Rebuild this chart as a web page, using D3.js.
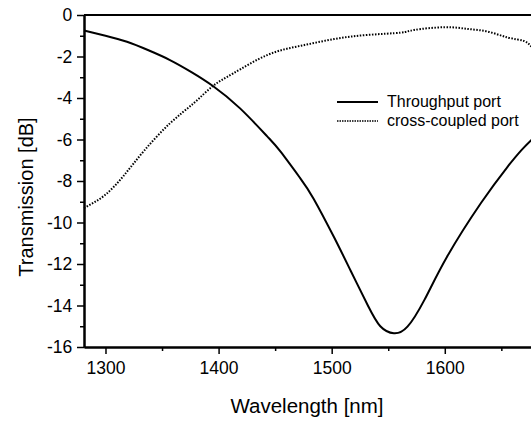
<!DOCTYPE html>
<html>
<head>
<meta charset="utf-8">
<script src="https://cdn.jsdelivr.net/npm/d3@7"></script>
<style>
  body { margin: 0; background: #fff; }
  text { font-family: "Liberation Sans", Arial, sans-serif; fill: #000; }
</style>
</head>
<body>
<div id="chart"></div>
<script>
// data
var throughputWl = [1281, 1300, 1319, 1338, 1357, 1376, 1395, 1419, 1443, 1455, 1472, 1484, 1502, 1517, 1532, 1543, 1555, 1567, 1582, 1602, 1632, 1655, 1668, 1677];
var throughputDb = [-0.75, -1.0, -1.29, -1.7, -2.17, -2.75, -3.42, -4.5, -5.85, -6.6, -7.85, -8.85, -10.7, -12.35, -14.0, -15.0, -15.34, -15.02, -13.73, -11.65, -9.06, -7.35, -6.5, -6.0];

var crossWl = [1281, 1299, 1316, 1334, 1357, 1378, 1395, 1413, 1443, 1472, 1502, 1532, 1561, 1573, 1600, 1620, 1638, 1656, 1670, 1677];
var crossDb = [-9.3, -8.7, -7.75, -6.55, -5.22, -4.25, -3.42, -2.81, -1.93, -1.49, -1.16, -0.96, -0.85, -0.72, -0.59, -0.67, -0.8, -1.09, -1.25, -1.55];

var xTicks = [1300, 1400, 1500, 1600];
var xMinor = [1350, 1450, 1550, 1650];
var yTicks = [0, -2, -4, -6, -8, -10, -12, -14, -16];
var yMinor = [-1, -3, -5, -7, -9, -11, -13, -15];
var legendLabels = ["Throughput port", "cross-coupled port"];

var margin = {top: 15, right: 0, bottom: 75, left: 84},
    width = 533 - margin.left,
    height = 347 - margin.top;

var svg = d3.select("#chart")
  .append("svg")
    .attr("width", 531)
    .attr("height", 422)
  .append("g")
    .attr("transform", "translate(" + margin.left + "," + margin.top + ")");

var x = d3.scaleLinear().domain([1281, 1678]).range([0, width]);
var y = d3.scaleLinear().domain([-16, 0]).range([height, 0]);

// x axis
var xAxis = svg.append("g")
  .attr("transform", "translate(0," + height + ")")
  .call(d3.axisBottom(x).tickValues(xTicks).tickSize(7).tickSizeOuter(0).tickFormat(d3.format("d")));
svg.append("g")
  .attr("transform", "translate(0," + height + ")")
  .call(d3.axisBottom(x).tickValues(xMinor).tickSize(4).tickSizeOuter(0).tickFormat(""));

// y axis
var yAxis = svg.append("g")
  .call(d3.axisLeft(y).tickValues(yTicks).tickSize(7).tickSizeOuter(0).tickFormat(function(d) { return d < 0 ? "-" + Math.abs(d) : d; }));
svg.append("g")
  .call(d3.axisLeft(y).tickValues(yMinor).tickSize(4).tickSizeOuter(0).tickFormat(""));

// top frame line
svg.append("line")
  .attr("x1", 0).attr("x2", width)
  .attr("y1", 0).attr("y2", 0)
  .attr("stroke", "#000").attr("stroke-width", 2);

svg.selectAll(".domain").attr("stroke", "#000").attr("stroke-width", 2);
svg.selectAll(".tick line").attr("stroke", "#000").attr("stroke-width", 1.5);
xAxis.selectAll("text").attr("font-size", 17.5).attr("dy", "0.95em");
yAxis.selectAll("text").attr("font-size", 17.5).attr("dx", "-0.1em");

// curves
var line = d3.line()
  .x(function(d) { return x(d[0]); })
  .y(function(d) { return y(d[1]); })
  .curve(d3.curveNatural);

svg.append("path")
  .datum(d3.zip(throughputWl, throughputDb))
  .attr("d", line)
  .attr("fill", "none")
  .attr("stroke", "#000")
  .attr("stroke-width", 2);

svg.append("path")
  .datum(d3.zip(crossWl, crossDb))
  .attr("d", line)
  .attr("fill", "none")
  .attr("stroke", "#000")
  .attr("stroke-width", 2)
  .attr("stroke-dasharray", "1.5,1.5");

// axis titles
svg.append("text")
  .attr("x", 307 - margin.left)
  .attr("y", 413 - margin.top)
  .attr("text-anchor", "middle")
  .attr("font-size", 20.5)
  .text("Wavelength [nm]");

svg.append("text")
  .attr("transform", "translate(" + (33 - margin.left) + "," + (197 - margin.top) + ") rotate(-90)")
  .attr("text-anchor", "middle")
  .attr("font-size", 20)
  .text("Transmission [dB]");

// legend
var legend = svg.append("g")
  .attr("transform", "translate(" + (337 - margin.left) + "," + (102 - margin.top) + ")");

legendLabels.forEach(function(label, i) {
  legend.append("line")
    .attr("x1", 0).attr("x2", 41)
    .attr("y1", i * 19).attr("y2", i * 19)
    .attr("stroke", "#000")
    .attr("stroke-width", i == 0 ? 2 : 1.5)
    .attr("stroke-dasharray", i == 0 ? null : "1.5,1");
  legend.append("text")
    .attr("x", 50)
    .attr("y", i * 19 + 5)
    .attr("font-size", 16)
    .text(label);
});
</script>
</body>
</html>
